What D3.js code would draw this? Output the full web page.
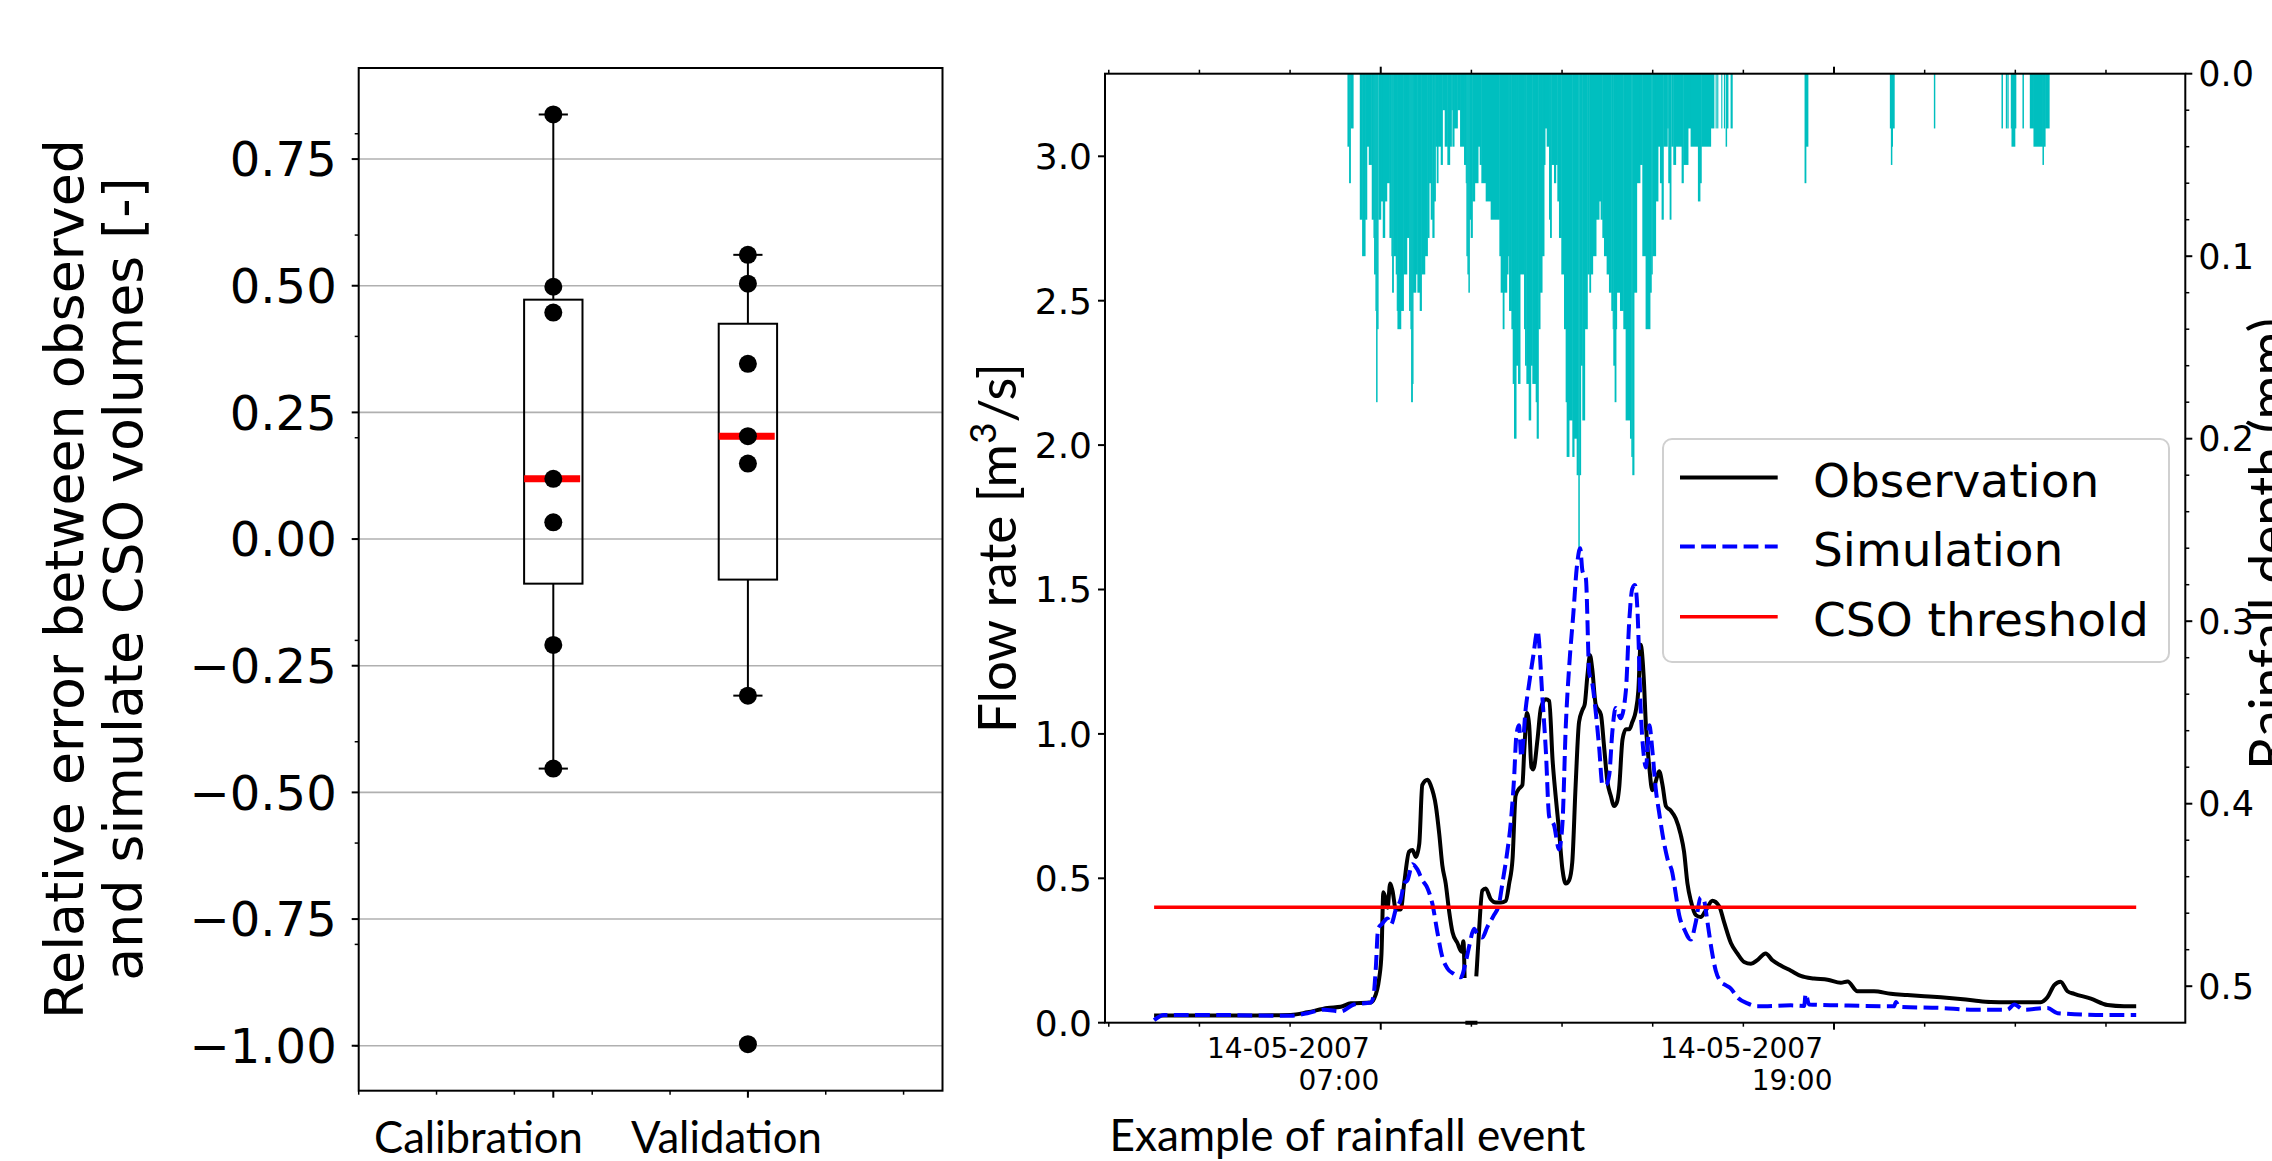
<!DOCTYPE html>
<html><head><meta charset="utf-8">
<script src="https://cdn.jsdelivr.net/npm/d3@7"></script>
<style>html,body{margin:0;padding:0;background:#fff;} svg{display:block;}</style>
</head><body>
<svg id="chart" width="2272" height="1161"></svg>
<script>
// ---------------- DATA ----------------
const boxCategories = ["Calibration", "Validation"];
const calibrationErrors = [0.838, 0.498, 0.447, 0.119, 0.033, -0.209, -0.453];
const validationErrors  = [0.561, 0.504, 0.346, 0.203, 0.149, -0.309, -0.997];
const errorTicks = [-1.0, -0.75, -0.5, -0.25, 0, 0.25, 0.5, 0.75];
const errorMinorTicks = [-1.0, -0.8, -0.6, -0.4, -0.2, 0, 0.2, 0.4, 0.6, 0.8];
const boxMinorTicks = [0, 0.4, 0.8, 1.2, 1.6, 2.0, 2.4, 2.8];

const flowTicks = [0, 0.5, 1.0, 1.5, 2.0, 2.5, 3.0];
const rainTicks = [0, 0.1, 0.2, 0.3, 0.4, 0.5];
const rainMinorTicks = [0.02,0.04,0.06,0.08,0.12,0.14,0.16,0.18,0.22,0.24,0.26,0.28,0.32,0.34,0.36,0.38,0.42,0.44,0.46,0.48];
// hours after 14-05-2007 00:00
const timeTickHours = [-0.2, 2.2, 4.6, 7.0, 9.4, 11.8, 14.2, 16.6, 19.0, 21.4, 23.8, 26.2];
const timeLabelHours = [7.0, 19.0];
const csoThreshold = 0.4;
const seriesNames = ["Observation", "Simulation", "CSO threshold"];

// [hour, flow m3/s]; null = missing
const observedFlow = [[1.0,0.025],[3.29,0.025],[4.62,0.027],[5.06,0.036],[5.59,0.051],[5.94,0.055],[6.21,0.067],[6.74,0.070],[6.82,0.082],[6.96,0.155],[7.02,0.24],[7.07,0.452],[7.13,0.428],[7.18,0.398],[7.25,0.482],[7.31,0.458],[7.40,0.392],[7.53,0.392],[7.62,0.482],[7.75,0.592],[7.84,0.598],[7.93,0.574],[8.02,0.62],[8.10,0.823],[8.24,0.841],[8.32,0.823],[8.46,0.75],[8.55,0.652],[8.63,0.545],[8.72,0.482],[8.81,0.386],[8.90,0.313],[9.03,0.276],[9.14,0.246],[9.19,0.282],[9.22,0.155],[9.23,null],[9.24,0.0],[9.56,0.0],[9.565,null],[9.53,0.16],[9.55,0.203],[9.60,0.313],[9.69,0.458],[9.78,0.465],[9.91,0.428],[10.05,0.416],[10.18,0.416],[10.31,0.422],[10.40,0.482],[10.49,0.568],[10.57,0.786],[10.66,0.81],[10.75,0.823],[10.80,0.944],[10.87,1.072],[10.93,1.029],[10.99,0.884],[11.04,0.877],[11.15,0.981],[11.24,1.09],[11.37,1.12],[11.46,1.114],[11.55,0.908],[11.63,0.786],[11.72,0.665],[11.81,0.531],[11.90,0.482],[11.99,0.494],[12.07,0.555],[12.16,0.823],[12.25,1.041],[12.34,1.083],[12.40,1.102],[12.47,1.20],[12.54,1.272],[12.60,1.224],[12.69,1.102],[12.83,1.066],[12.91,0.96],[13.00,0.835],[13.09,0.786],[13.18,0.75],[13.25,0.762],[13.31,0.81],[13.40,0.98],[13.49,1.016],[13.58,1.016],[13.66,1.041],[13.75,1.078],[13.82,1.15],[13.88,1.309],[13.96,1.20],[14.02,1.03],[14.11,0.884],[14.19,0.805],[14.28,0.835],[14.37,0.871],[14.46,0.823],[14.55,0.75],[14.68,0.734],[14.81,0.707],[14.94,0.652],[15.03,0.592],[15.12,0.482],[15.21,0.422],[15.34,0.373],[15.47,0.366],[15.61,0.39],[15.78,0.422],[15.96,0.403],[16.09,0.348],[16.27,0.276],[16.44,0.24],[16.62,0.21],[16.80,0.204],[16.97,0.217],[17.19,0.24],[17.37,0.216],[17.59,0.198],[17.86,0.18],[18.12,0.162],[18.47,0.153],[18.83,0.149],[19.18,0.138],[19.36,0.143],[19.62,0.109],[20.06,0.109],[20.50,0.10],[20.94,0.096],[21.39,0.092],[21.83,0.088],[22.27,0.083],[22.71,0.077],[23.15,0.072],[23.59,0.071],[24.47,0.071],[24.65,0.088],[24.83,0.13],[25.00,0.142],[25.18,0.109],[25.36,0.10],[25.80,0.083],[26.24,0.061],[26.68,0.057],[27.0,0.057]];

const simulatedFlow = [[1.0,0.009],[1.26,0.027],[2.41,0.027],[4.62,0.024],[5.06,0.033],[5.50,0.045],[5.94,0.039],[6.29,0.063],[6.74,0.070],[6.81,0.094],[6.87,0.191],[6.93,0.325],[7.04,0.343],[7.18,0.361],[7.27,0.34],[7.40,0.392],[7.53,0.428],[7.62,0.482],[7.71,0.494],[7.84,0.549],[7.97,0.531],[8.10,0.494],[8.24,0.465],[8.37,0.41],[8.50,0.313],[8.63,0.228],[8.77,0.187],[8.94,0.169],[9.12,0.157],[9.25,0.21],[9.34,0.264],[9.47,0.325],[9.56,0.306],[9.69,0.295],[9.82,0.331],[10.00,0.373],[10.13,0.41],[10.22,0.482],[10.35,0.592],[10.44,0.689],[10.53,0.847],[10.59,0.993],[10.66,1.03],[10.72,0.92],[10.84,1.09],[10.93,1.175],[11.04,1.272],[11.15,1.357],[11.28,1.126],[11.37,0.944],[11.46,0.713],[11.59,0.683],[11.72,0.60],[11.81,0.689],[11.90,1.03],[11.99,1.236],[12.10,1.418],[12.19,1.576],[12.28,1.643],[12.34,1.564],[12.43,1.539],[12.52,1.212],[12.60,1.175],[12.69,1.078],[12.78,0.957],[12.87,0.823],[12.96,0.823],[13.05,0.859],[13.13,1.005],[13.22,1.09],[13.35,1.054],[13.49,1.15],[13.58,1.394],[13.66,1.503],[13.73,1.516],[13.80,1.418],[13.88,1.09],[13.96,0.93],[14.02,0.884],[14.11,1.03],[14.19,0.944],[14.28,0.81],[14.37,0.728],[14.46,0.652],[14.59,0.568],[14.72,0.519],[14.81,0.446],[14.90,0.373],[15.03,0.325],[15.21,0.288],[15.34,0.348],[15.47,0.434],[15.56,0.422],[15.65,0.348],[15.76,0.252],[15.87,0.18],[16.00,0.142],[16.13,0.13],[16.27,0.118],[16.44,0.088],[16.71,0.067],[16.97,0.057],[17.86,0.06],[18.21,0.058],[18.25,0.10],[18.34,0.063],[19.18,0.06],[20.50,0.057],[20.59,0.057],[20.64,0.072],[20.72,0.055],[21.83,0.051],[22.71,0.045],[23.59,0.045],[23.77,0.063],[24.03,0.045],[24.65,0.051],[24.92,0.033],[26.24,0.027],[27.0,0.027]];

// rainfall steps: [start minute, end minute (after 14-05 00:00), depth mm]
const rainSteps = [
[367.1,369.7,0.04],[369.7,371.8,0.06],[371.8,376.1,0.03],
[386.7,390.4,0.08],[390.4,395.1,0.10],[395.1,397.8,0.08],[397.8,401.0,0.04],[401.0,405.2,0.05],
[405.7,408.4,0.08],[408.4,409.4,0.09],[409.4,411.5,0.11],[411.5,412.6,0.13],[412.6,414.2,0.18],[414.2,415.8,0.14],
[416.3,420.0,0.08],[420.0,423.2,0.07],[423.2,426.3,0.09],[426.3,429.5,0.07],[429.5,433.8,0.06],[433.8,436.9,0.09],[436.9,438.0,0.10],[438.0,440.1,0.12],[440.1,443.8,0.10],[443.8,445.4,0.11],[445.4,446.5,0.13],[446.5,451.8,0.14],[451.8,456.0,0.13],[456.0,461.3,0.11],[461.3,465.0,0.09],[465.0,467.1,0.13],[467.1,468.2,0.14],[468.2,470.3,0.18],[470.3,471.3,0.17],[471.3,475.6,0.12],[475.6,478.2,0.11],[478.2,481.9,0.12],[481.9,484.6,0.13],[484.6,489.9,0.11],[489.9,494.1,0.10],[494.1,496.7,0.09],[496.7,499.4,0.06],[499.4,502.0,0.08],[502.0,504.7,0.09],[504.7,506.8,0.07],[506.8,508.9,0.04],[508.9,511.0,0.06],[511.0,515.3,0.04],[515.3,517.9,0.05],[517.9,521.6,0.02],[521.6,525.8,0.04],[525.8,529.5,0.05],[529.5,532.2,0.04],[532.2,533.8,0.02],[533.8,536.4,0.04],[536.4,541.7,0.03],[541.7,546.0,0.02],[546.0,552.3,0.04],[552.3,555.0,0.05],[555.0,556.0,0.06],[556.0,557.6,0.10],[557.6,559.2,0.11],[559.2,560.8,0.12],[560.8,562.9,0.08],[562.9,565.5,0.09],[565.5,569.2,0.07],[569.2,574.5,0.06],[574.5,577.2,0.04],[577.2,579.8,0.05],[579.8,586.7,0.06],[586.7,594.6,0.07],[594.6,608.4,0.08],[608.4,610.5,0.10],[610.5,613.7,0.12],[613.7,615.8,0.14],[615.8,620.1,0.12],[620.1,622.2,0.11],[622.2,623.8,0.10],[623.8,627.5,0.13],[627.5,629.6,0.14],[629.6,631.7,0.17],[631.7,634.9,0.20],[634.9,638.1,0.16],[638.1,641.2,0.17],[641.2,647.6,0.11],[647.6,649.2,0.14],[649.2,651.3,0.16],[651.3,655.0,0.17],[655.0,658.2,0.19],[658.2,660.8,0.16],[660.8,666.1,0.17],[666.1,667.7,0.18],[667.7,670.3,0.20],[670.3,673.0,0.14],[673.0,676.2,0.12],[676.2,679.3,0.10],[679.3,680.9,0.05],[680.9,683.6,0.03],[683.6,687.3,0.04],[687.3,688.9,0.08],[688.9,691.0,0.09],[691.0,695.2,0.05],[695.2,697.9,0.06],[697.9,700.5,0.05],[700.5,703.1,0.07],[703.1,706.8,0.09],[706.8,711.1,0.11],[711.1,713.7,0.14],[713.7,715.3,0.18],[715.3,719.0,0.21],[719.0,724.3,0.19],[724.3,727.0,0.21],[727.0,731.2,0.20],[731.2,733.8,0.22],[733.8,735.4,0.26],[735.4,737.5,0.22],[737.5,740.2,0.16],[740.2,743.9,0.19],[743.9,748.1,0.14],[748.1,751.3,0.11],[751.3,753.4,0.12],[753.4,756.6,0.11],[756.6,761.9,0.10],[761.9,766.7,0.08],[766.7,769.3,0.07],
[769.3,772.0,0.08],[772.0,774.6,0.09],[774.6,778.8,0.10],[778.8,782.5,0.11],[782.5,786.2,0.12],[786.2,788.4,0.13],[788.4,789.4,0.14],[789.4,791.5,0.16],[791.5,793.6,0.18],[793.6,794.7,0.14],[794.7,800.0,0.12],[800.0,805.3,0.13],[805.3,809.0,0.14],[809.0,815.9,0.19],[815.9,818.0,0.20],[818.0,819.6,0.21],[819.6,822.2,0.22],[822.2,826.5,0.12],[826.5,831.7,0.06],[831.7,835.5,0.05],[835.5,840.7,0.10],[840.7,847.6,0.14],[847.6,849.7,0.12],[849.7,851.3,0.11],[851.3,856.6,0.10],[856.6,860.3,0.07],[860.3,863.5,0.04],[863.5,866.1,0.06],[866.1,868.8,0.08],[868.8,875.1,0.04],[875.1,876.7,0.03],[876.7,878.9,0.06],[878.9,881.0,0.08],[881.5,884.7,0.04],[884.7,888.4,0.05],[888.4,897.9,0.04],[897.9,900.6,0.06],[900.6,908.0,0.05],[908.0,912.2,0.03],[912.2,923.8,0.04],[923.8,927.0,0.07],[927.0,929.1,0.06],[929.1,944.0,0.04],[944.0,949.2,0.03],[951.9,952.5,0.03],[954.5,955.1,0.03],[960.9,961.5,0.03],[965.1,965.7,0.03],[967.8,969.4,0.04],[969.4,971.5,0.03],[975.7,978.3,0.03],
[1093.2,1095.3,0.06],[1095.3,1098.5,0.04],
[1228.7,1230.3,0.03],[1230.3,1231.9,0.05],[1231.9,1232.9,0.04],[1232.9,1235.6,0.03],
[1298.6,1300.1,0.03],
[1406.0,1407.6,0.03],[1412.9,1414.5,0.03],[1415.5,1416.6,0.03],[1420.8,1421.9,0.03],[1421.9,1427.2,0.04],[1427.2,1428.8,0.03],[1439.3,1440.9,0.03],[1451.0,1456.8,0.03],[1456.8,1471.1,0.04],[1471.1,1472.7,0.05],[1472.7,1475.3,0.04],[1475.3,1481.7,0.03]
];

// ---------------- DRAW ----------------
const svg = d3.select('#chart');
const DJ = "'DejaVu Sans', sans-serif";
const CAL = "Lato, 'Open Sans', sans-serif";
const fitText = (sel, target) => {
  const w = sel.node().getComputedTextLength();
  sel.attr('font-size', parseFloat(sel.attr('font-size')) * target / w);
};

// ===== Left panel: box plot =====
const L = {x0: 358.7, x1: 942.5, y0: 68, y1: 1090.7};
const allErr = calibrationErrors.concat(validationErrors);
const eMin = d3.min(allErr), eMax = d3.max(allErr), ePad = (eMax - eMin) * 0.05;
const xBox = d3.scaleLinear().domain([0, 3]).range([L.x0, L.x1]);
const yErr = d3.scaleLinear().domain([eMin - ePad, eMax + ePad]).range([L.y1, L.y0]);
const gL = svg.append('g');

// grid
gL.selectAll('.grid').data(errorTicks).join('line')
  .attr('x1', L.x0).attr('x2', L.x1).attr('y1', d => yErr(d)).attr('y2', d => yErr(d))
  .attr('stroke', '#b0b0b0').attr('stroke-width', 1.6);

// boxes
[calibrationErrors, validationErrors].forEach((vals, i) => {
  const pos = i + 1;
  const s = vals.slice().sort(d3.ascending);
  const q1 = d3.quantile(s, 0.25), q2 = d3.quantile(s, 0.5), q3 = d3.quantile(s, 0.75);
  const iqr = q3 - q1;
  const lo = d3.min(s.filter(v => v >= q1 - 1.5 * iqr));
  const hi = d3.max(s.filter(v => v <= q3 + 1.5 * iqr));
  const g = gL.append('g');
  const ln = (x1, y1, x2, y2) => g.append('line').attr('x1', x1).attr('y1', y1).attr('x2', x2).attr('y2', y2)
    .attr('stroke', '#000').attr('stroke-width', 2);
  ln(xBox(pos), yErr(q3), xBox(pos), yErr(hi));
  ln(xBox(pos), yErr(q1), xBox(pos), yErr(lo));
  ln(xBox(pos - 0.075), yErr(hi), xBox(pos + 0.075), yErr(hi));
  ln(xBox(pos - 0.075), yErr(lo), xBox(pos + 0.075), yErr(lo));
  g.append('rect').attr('x', xBox(pos - 0.15)).attr('width', xBox(pos + 0.15) - xBox(pos - 0.15))
    .attr('y', yErr(q3)).attr('height', yErr(q1) - yErr(q3))
    .attr('fill', 'none').attr('stroke', '#000').attr('stroke-width', 2);
  g.append('line').attr('x1', xBox(pos - 0.15)).attr('x2', xBox(pos + 0.15))
    .attr('y1', yErr(q2)).attr('y2', yErr(q2))
    .attr('stroke', '#ff0000').attr('stroke-width', 7).attr('stroke-dasharray', '24,8');
  g.selectAll('circle').data(vals).join('circle')
    .attr('cx', xBox(pos)).attr('cy', d => yErr(d)).attr('r', 9).attr('fill', '#000');
});

// frame
gL.append('rect').attr('x', L.x0).attr('y', L.y0).attr('width', L.x1 - L.x0).attr('height', L.y1 - L.y0)
  .attr('fill', 'none').attr('stroke', '#000').attr('stroke-width', 2);
// y ticks
const fmt2 = d3.format('.2f');
errorTicks.forEach(v => {
  gL.append('line').attr('x1', L.x0 - 7).attr('x2', L.x0).attr('y1', yErr(v)).attr('y2', yErr(v))
    .attr('stroke', '#000').attr('stroke-width', 2);
  gL.append('text').attr('x', L.x0 - 22).attr('y', yErr(v)).attr('dy', '0.36em')
    .attr('text-anchor', 'end').attr('font-family', DJ).attr('font-size', 48).attr('fill', '#000')
    .text(fmt2(v));
});
errorMinorTicks.forEach(v => {
  gL.append('line').attr('x1', L.x0 - 4).attr('x2', L.x0).attr('y1', yErr(v)).attr('y2', yErr(v))
    .attr('stroke', '#000').attr('stroke-width', 1.5);
});
// x ticks
[1, 2].forEach(v => {
  gL.append('line').attr('x1', xBox(v)).attr('x2', xBox(v)).attr('y1', L.y1).attr('y2', L.y1 + 7)
    .attr('stroke', '#000').attr('stroke-width', 2);
});
boxMinorTicks.forEach(v => {
  gL.append('line').attr('x1', xBox(v)).attr('x2', xBox(v)).attr('y1', L.y1).attr('y2', L.y1 + 4)
    .attr('stroke', '#000').attr('stroke-width', 1.5);
});
// category labels
const catStart = [374, 631];
boxCategories.forEach((c, i) => {
  const t = gL.append('text').attr('x', catStart[i]).attr('y', 1153)
    .attr('font-family', CAL).attr('font-size', 48).attr('fill', '#000').text(c);
  fitText(t, i === 0 ? 209 : 191);
});
// y label
const yl1 = gL.append('text').attr('transform', 'translate(83,579) rotate(-90)')
  .attr('text-anchor', 'middle').attr('font-family', DJ).attr('font-size', 52).attr('fill', '#000')
  .text('Relative error between observed');
fitText(yl1, 880);
gL.append('text').attr('transform', 'translate(142,579) rotate(-90)')
  .attr('text-anchor', 'middle').attr('font-family', DJ).attr('font-size', yl1.attr('font-size')).attr('fill', '#000')
  .text('and simulate CSO volumes [-]');

// ===== Right panel: hydrograph =====
const R = {x0: 1105, x1: 2185.3, y0: 73.7, y1: 1022.7};
const base = new Date(2007, 4, 14, 0, 0, 0).getTime();
const h2d = h => new Date(base + h * 3600000);
const tMin = d3.min(observedFlow, d => d[0]), tMax = d3.max(observedFlow, d => d[0]);
const tPad = (tMax - tMin) * 0.05;
const xTime = d3.scaleTime().domain([h2d(tMin - tPad), h2d(tMax + tPad)]).range([R.x0, R.x1]);
const yFlow = d3.scaleLinear().domain([0, 2 * d3.max(simulatedFlow, d => d[1])]).range([R.y1, R.y0]);
const yRain = d3.scaleLinear().domain([0, 2 * d3.max(rainSteps, d => d[2])]).range([R.y0, R.y1]);
const gR = svg.append('g');

// rain bars (slight overlap hides anti-aliasing seams between adjacent steps)
gR.selectAll('rect.rain').data(rainSteps).join('rect')
  .attr('x', d => xTime(h2d(d[0] / 60)))
  .attr('width', d => Math.max(0.6, xTime(h2d(d[1] / 60)) - xTime(h2d(d[0] / 60))) + 0.5)
  .attr('y', yRain(0)).attr('height', d => yRain(d[2]) - yRain(0))
  .attr('fill', '#00bfbf');

// lines
const line = d3.line().defined(d => d[1] !== null)
  .x(d => xTime(h2d(d[0]))).y(d => yFlow(d[1])).curve(d3.curveMonotoneX);
gR.append('path').attr('d', line(observedFlow)).attr('fill', 'none')
  .attr('stroke', '#000').attr('stroke-width', 4).attr('stroke-linejoin', 'round');
gR.append('path').attr('d', line(simulatedFlow)).attr('fill', 'none')
  .attr('stroke', '#0000ff').attr('stroke-width', 4).attr('stroke-dasharray', '14.8,6.4');
gR.append('line').attr('x1', xTime(h2d(tMin))).attr('x2', xTime(h2d(tMax)))
  .attr('y1', yFlow(csoThreshold)).attr('y2', yFlow(csoThreshold))
  .attr('stroke', '#ff0000').attr('stroke-width', 3.5);

// frame
gR.append('rect').attr('x', R.x0).attr('y', R.y0).attr('width', R.x1 - R.x0).attr('height', R.y1 - R.y0)
  .attr('fill', 'none').attr('stroke', '#000').attr('stroke-width', 2);

// flow ticks
const fmt1 = d3.format('.1f');
flowTicks.forEach(v => {
  gR.append('line').attr('x1', R.x0 - 7).attr('x2', R.x0).attr('y1', yFlow(v)).attr('y2', yFlow(v))
    .attr('stroke', '#000').attr('stroke-width', 2);
  gR.append('text').attr('x', R.x0 - 13).attr('y', yFlow(v)).attr('dy', '0.36em')
    .attr('text-anchor', 'end').attr('font-family', DJ).attr('font-size', 36).attr('fill', '#000')
    .text(fmt1(v));
});
// rain ticks
rainTicks.forEach(v => {
  gR.append('line').attr('x1', R.x1).attr('x2', R.x1 + 7).attr('y1', yRain(v)).attr('y2', yRain(v))
    .attr('stroke', '#000').attr('stroke-width', 2);
  gR.append('text').attr('x', R.x1 + 13).attr('y', yRain(v)).attr('dy', '0.36em')
    .attr('text-anchor', 'start').attr('font-family', DJ).attr('font-size', 35).attr('fill', '#000')
    .text(fmt1(v));
});
rainMinorTicks.forEach(v => {
  gR.append('line').attr('x1', R.x1).attr('x2', R.x1 + 4).attr('y1', yRain(v)).attr('y2', yRain(v))
    .attr('stroke', '#000').attr('stroke-width', 1.5);
});
// time ticks (bottom and top)
timeTickHours.forEach(h => {
  const major = timeLabelHours.includes(h);
  const x = xTime(h2d(h)), len = major ? 7 : 4;
  gR.append('line').attr('x1', x).attr('x2', x).attr('y1', R.y1).attr('y2', R.y1 + len)
    .attr('stroke', '#000').attr('stroke-width', major ? 2 : 1.5);
  gR.append('line').attr('x1', x).attr('x2', x).attr('y1', R.y0).attr('y2', R.y0 - len)
    .attr('stroke', '#000').attr('stroke-width', major ? 2 : 1.5);
});
const fDate = d3.timeFormat('%d-%m-%Y'), fHour = d3.timeFormat('%H:%M');
timeLabelHours.forEach(h => {
  const x = xTime(h2d(h));
  gR.append('text').attr('x', x - 11).attr('y', 1058.3).attr('text-anchor', 'end')
    .attr('font-family', DJ).attr('font-size', 28).attr('fill', '#000').text(fDate(h2d(h)));
  gR.append('text').attr('x', x - 1.5).attr('y', 1090.3).attr('text-anchor', 'end')
    .attr('font-family', DJ).attr('font-size', 28).attr('fill', '#000').text(fHour(h2d(h)));
});

// axis labels
const xl = gR.append('text').attr('x', 1109.5).attr('y', 1151).attr('font-family', CAL)
  .attr('font-size', 48).attr('fill', '#000').text('Example of rainfall event');
fitText(xl, 476);
const fl = gR.append('text').attr('transform', 'translate(1016,548) rotate(-90)')
  .attr('text-anchor', 'middle').attr('font-family', CAL).attr('font-size', 52).attr('fill', '#000');
fl.append('tspan').text('Flow rate [m');
fl.append('tspan').attr('font-size', '0.7em').attr('dy', '-0.55em').text('3');
fl.append('tspan').attr('dy', '0.385em').text('/s]');
fitText(fl, 370);
const rl = gR.append('text').attr('text-anchor', 'middle').attr('font-family', CAL)
  .attr('font-size', 52).attr('fill', '#000').text('Rainfall depth (mm)');
fitText(rl, 452);
const rlCap = parseFloat(rl.attr('font-size')) * 0.72;
rl.attr('transform', `translate(${2249 + rlCap},544) rotate(-90)`);

// legend
const lg = gR.append('g');
lg.append('rect').attr('x', 1663).attr('y', 439).attr('width', 506).attr('height', 223).attr('rx', 9)
  .attr('fill', '#fff').attr('fill-opacity', 0.8).attr('stroke', '#d0d0d0').attr('stroke-width', 2);
const legendStyles = [
  {stroke: '#000', dash: null, w: 4},
  {stroke: '#0000ff', dash: '14.8,6.4', w: 4},
  {stroke: '#ff0000', dash: null, w: 3.5}
];
const legendRows = [477.4, 546.6, 616.8];
seriesNames.forEach((name, i) => {
  const st = legendStyles[i];
  const l = lg.append('line').attr('x1', 1680).attr('x2', 1777.7).attr('y1', legendRows[i]).attr('y2', legendRows[i])
    .attr('stroke', st.stroke).attr('stroke-width', st.w);
  if (st.dash) l.attr('stroke-dasharray', st.dash);
  lg.append('text').attr('x', 1813).attr('y', legendRows[i] + 19.5)
    .attr('font-family', DJ).attr('font-size', 47).attr('fill', '#000').text(name);
});
</script>
</body></html>
